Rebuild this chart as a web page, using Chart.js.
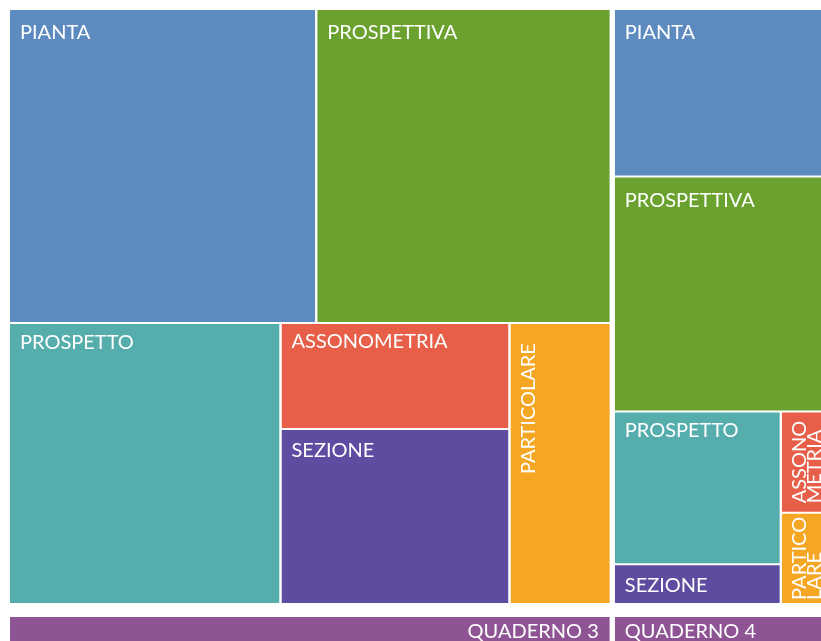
<!DOCTYPE html>
<html>
<head>
<meta charset="utf-8">
<script src="https://cdn.jsdelivr.net/npm/chart.js@4/dist/chart.umd.min.js"></script>
<style>
  html, body { margin: 0; padding: 0; background: #ffffff; overflow: hidden; }
  canvas { display: block; }
</style>
</head>
<body>
<canvas id="c" width="821" height="641"></canvas>
<script>
// ---- data ----
const categories = ['PIANTA', 'PROSPETTIVA', 'PROSPETTO', 'ASSONOMETRIA', 'SEZIONE', 'PARTICOLARE'];
const groups = ['QUADERNO 3', 'QUADERNO 4'];
const quaderno3 = [24, 23, 19, 6, 10, 7];
const quaderno4 = [8.6, 12.1, 6.4, 1.0, 1.6, 0.9];
const labelBreaks = ['PIANTA', 'PROSPETTIVA', 'PROSPETTO', 'ASSONO|METRIA', 'SEZIONE', 'PARTICO|LARE'];

// ---- layout structure (nesting of the treemap, indices into categories) ----
const layoutQ3 = { dir: 'v', children: [ { dir: 'h', children: [0, 1] },
                                           { dir: 'h', children: [2, { dir: 'v', children: [3, 4] }, 5] } ] };
const layoutQ4 = { dir: 'v', children: [0, 1, { dir: 'h', children: [ { dir: 'v', children: [2, 4] },
                                                                       { dir: 'v', children: [3, 5] } ] } ] };

// ---- styles ----
const colors = ['#5d8bc0', '#6ba22f', '#55adac', '#e75f48', '#5d4ca0', '#f5a623'];
const barColor = '#8e5494';
const capTopOffset = [15, 15, 10.5, 9.5, 12.5, 12];
const FONT = '400 20px Lato, "Open Sans", sans-serif';
const CELL_GAP = 2, GROUP_GAP = 5;
const AREA_W = 811, CELLS_H = 593, BAR_TOP = 607, AREA_H = 631;

function sumOf(node, vals) {
  if (typeof node === 'number') return vals[node];
  return node.children.reduce((s, c) => s + sumOf(c, vals), 0);
}
function layout(node, vals, x, y, w, h, out) {
  if (typeof node === 'number') { out.push({ idx: node, x, y, w, h }); return; }
  const sums = node.children.map(c => sumOf(c, vals));
  const total = sums.reduce((a, b) => a + b, 0);
  const horiz = node.dir === 'h';
  const avail = (horiz ? w : h) - (node.children.length - 1) * CELL_GAP;
  let pos = horiz ? x : y;
  node.children.forEach((c, i) => {
    const len = avail * sums[i] / total;
    if (horiz) layout(c, vals, pos, y, len, h, out); else layout(c, vals, x, pos, w, len, out);
    pos += len + CELL_GAP;
  });
}

const groupValues = [quaderno3, quaderno4];
const groupLayouts = [layoutQ3, layoutQ4];
const totals = groupValues.map(v => v.reduce((a, b) => a + b, 0));
const grand = totals.reduce((a, b) => a + b, 0);
const availW = AREA_W - (groups.length - 1) * GROUP_GAP;

const cells = [];
const groupRects = [];
let gx = 0;
groups.forEach((g, gi) => {
  const gw = availW * totals[gi] / grand;
  groupRects.push({ name: g, x: gx, w: gw, align: gi === 0 ? 'right' : 'left' });
  const out = [];
  layout(groupLayouts[gi], groupValues[gi], gx, 0, gw, CELLS_H, out);
  out.forEach(c => cells.push(c));
  gx += gw + GROUP_GAP;
});

// ---- datasets: each rectangle = top edge line filled to bottom edge line ----
const datasets = [];
function addRect(x0, x1, y0, y1, color) {
  datasets.push({ data: [{ x: x0, y: y0 }, { x: x1, y: y0 }], fill: '+1', backgroundColor: color,
                  borderColor: 'rgba(0,0,0,0)', borderWidth: 0, pointRadius: 0, tension: 0 });
  datasets.push({ data: [{ x: x0, y: y1 }, { x: x1, y: y1 }], fill: false, backgroundColor: color,
                  borderColor: 'rgba(0,0,0,0)', borderWidth: 0, pointRadius: 0, tension: 0 });
}
cells.forEach(c => addRect(c.x, c.x + c.w, c.y, c.y + c.h, colors[c.idx]));
groupRects.forEach(g => addRect(g.x, g.x + g.w, BAR_TOP, AREA_H, barColor));

const labelPlugin = {
  id: 'treemapLabels',
  afterDatasetsDraw(chart) {
    const ctx = chart.ctx, xs = chart.scales.x, ys = chart.scales.y;
    ctx.save();
    ctx.font = FONT;
    ctx.fillStyle = '#ffffff';
    ctx.textBaseline = 'alphabetic';
    const CAP = 14.3, LINE = 14.5, PAD = 10;
    cells.forEach(c => {
      const x0 = xs.getPixelForValue(c.x), x1 = xs.getPixelForValue(c.x + c.w);
      const y0 = ys.getPixelForValue(c.y), y1 = ys.getPixelForValue(c.y + c.h);
      const w = x1 - x0, h = y1 - y0;
      const text = categories[c.idx];
      const tw = ctx.measureText(text).width;
      ctx.save();
      ctx.beginPath(); ctx.rect(x0, y0, w, h); ctx.clip();
      if (tw + 2 * PAD <= w) {
        ctx.textAlign = 'left';
        ctx.fillText(text, x0 + PAD, y0 + capTopOffset[c.idx] + CAP);
      } else {
        let lines = [text];
        if (tw + 2 * PAD > h) lines = labelBreaks[c.idx].split('|');
        const len = Math.max(...lines.map(l => ctx.measureText(l).width));
        const topGap = Math.min(19, (h - len) / 2);
        const startY = y0 + topGap + len;
        ctx.translate(x0 + PAD + CAP, startY);
        ctx.rotate(-Math.PI / 2);
        ctx.textAlign = 'left';
        lines.forEach((l, i) => ctx.fillText(l, 0, i * LINE));
      }
      ctx.restore();
    });
    groupRects.forEach(g => {
      const x0 = xs.getPixelForValue(g.x), x1 = xs.getPixelForValue(g.x + g.w);
      const yb = ys.getPixelForValue(BAR_TOP);
      ctx.textAlign = g.align;
      ctx.fillText(g.name, g.align === 'right' ? x1 - 11 : x0 + PAD, yb + 6.3 + CAP);
    });
    ctx.restore();
  }
};

new Chart(document.getElementById('c'), {
  type: 'line',
  data: { datasets },
  options: {
    responsive: false,
    animation: false,
    events: [],
    layout: { padding: { left: 10, top: 10, right: 0, bottom: 0 } },
    plugins: { legend: { display: false }, tooltip: { enabled: false }, filler: { propagate: false } },
    scales: {
      x: { type: 'linear', display: false, min: 0, max: AREA_W },
      y: { type: 'linear', display: false, min: 0, max: AREA_H, reverse: true }
    }
  },
  plugins: [labelPlugin]
});
</script>
</body>
</html>
